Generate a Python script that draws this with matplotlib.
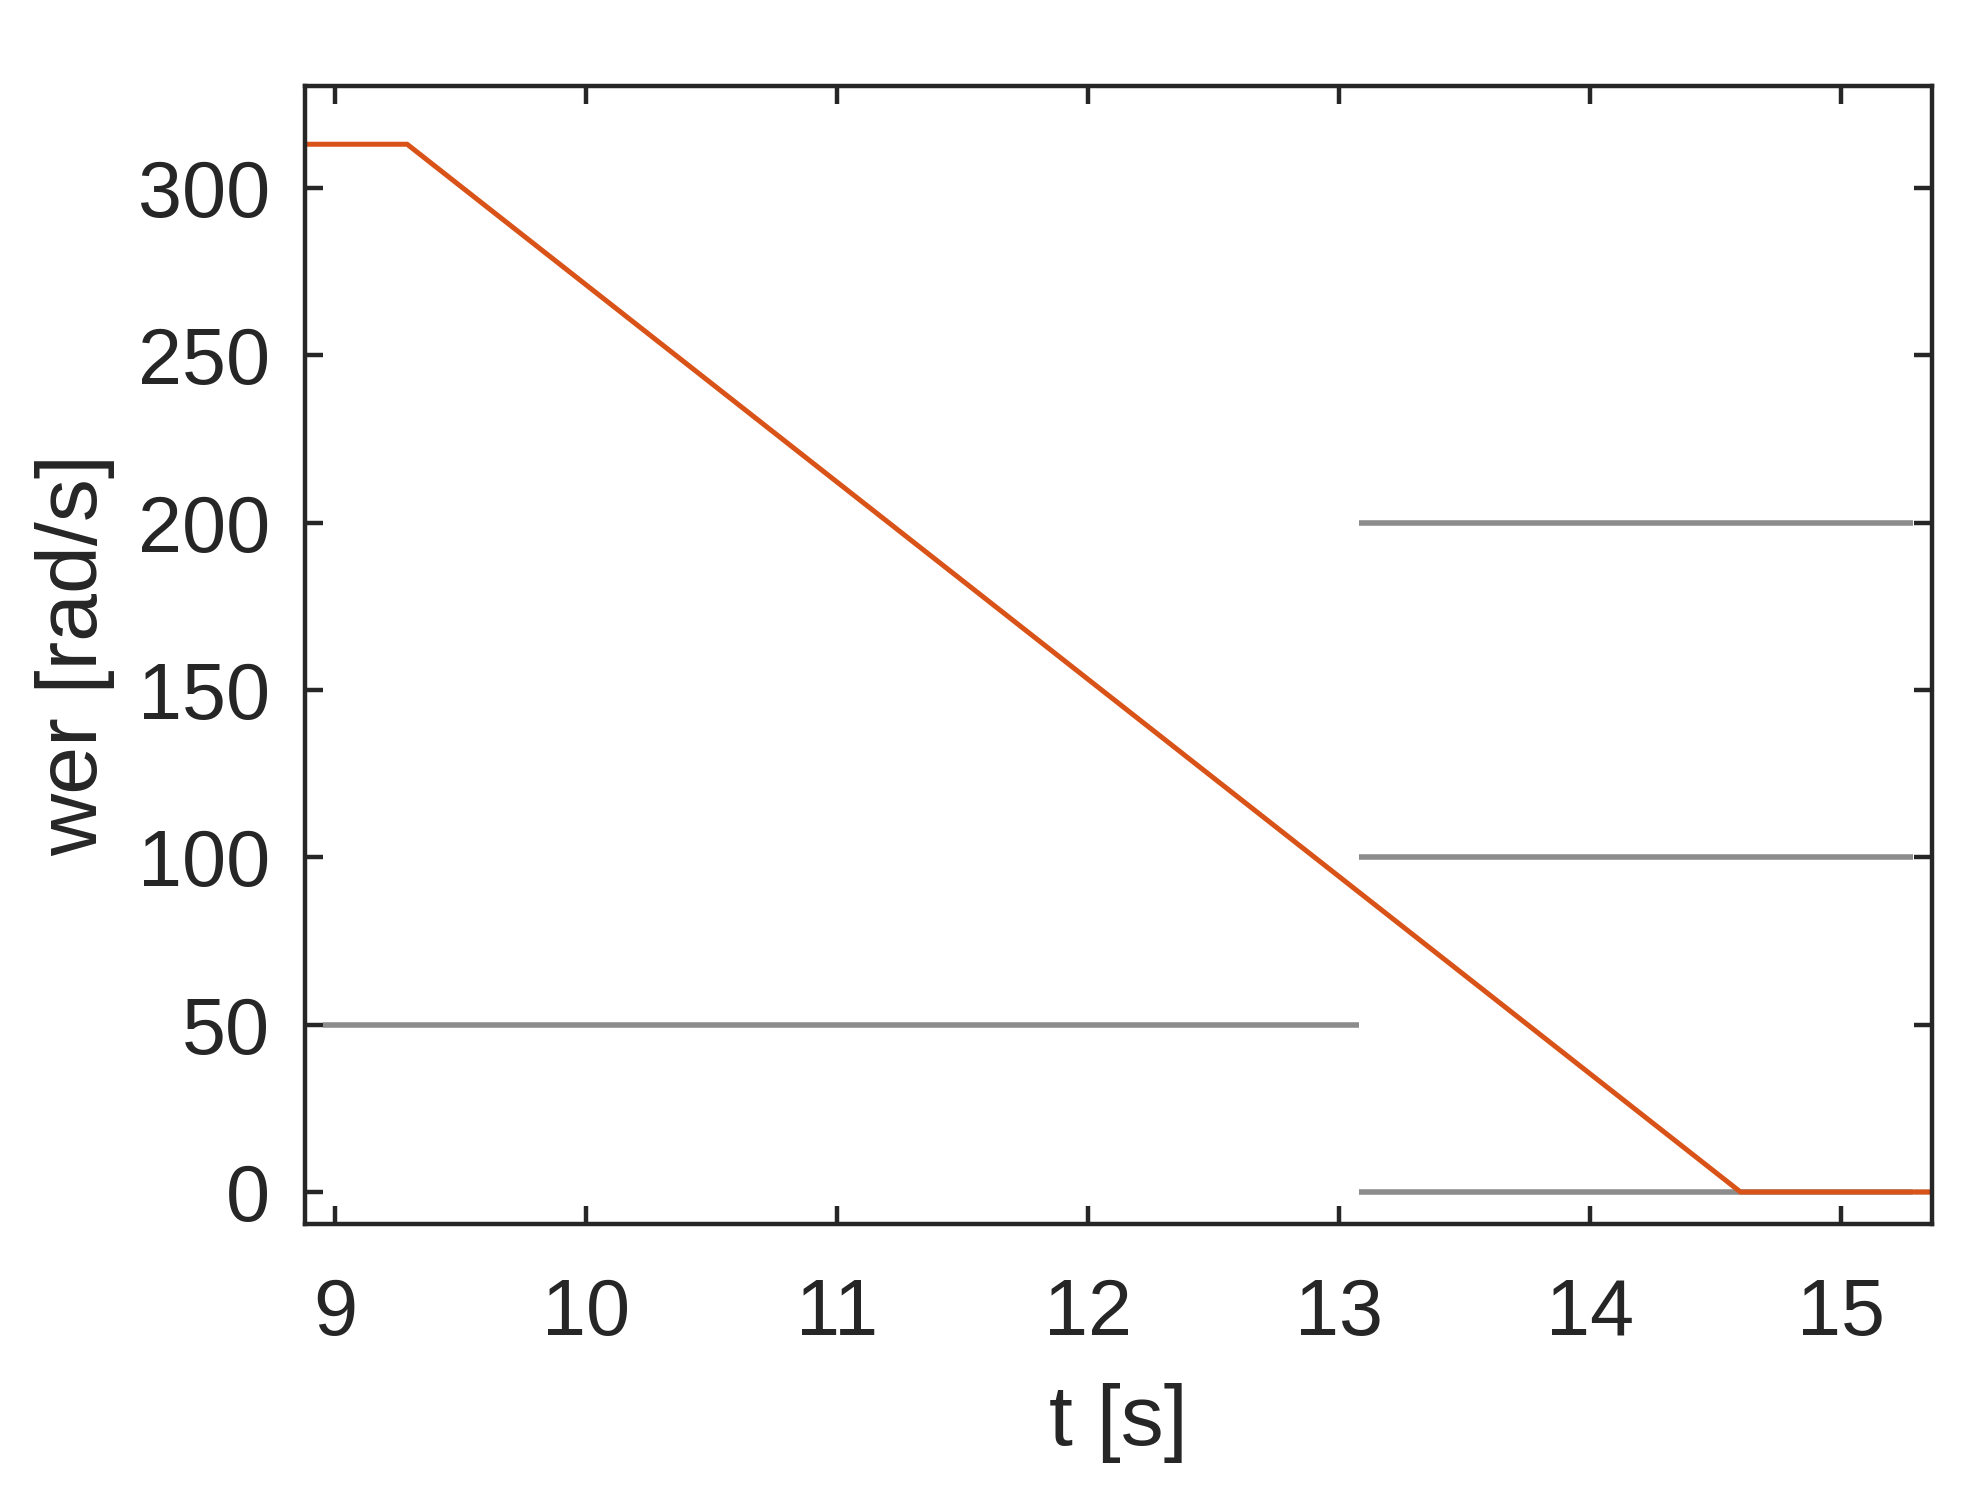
import numpy as np
import matplotlib.pyplot as plt

plt.rcParams['font.family'] = ['Liberation Sans', 'DejaVu Sans']

# speed profile (orange)
t_speed = [8.88, 9.287, 14.60, 15.363]
w_speed = [313.0, 313.0, 0.0, 0.0]

# reference levels (gray)
t_lvl_a = [8.952, 13.08]
w_lvl_a = [50, 50]
t_lvl_b = [13.08, 15.287]
w_lvl_b = [200, 100, 0]

xticks = [9, 10, 11, 12, 13, 14, 15]
yticks = [0, 50, 100, 150, 200, 250, 300]

dark = '#262626'

fig = plt.figure(figsize=(19.75, 14.95), dpi=100)
ax = fig.add_axes([305 / 1975, 1 - 1224 / 1495, (1932 - 305) / 1975, (1224 - 86) / 1495])

ax.plot(t_lvl_a, w_lvl_a, color='#8c8c8c', lw=4.0, solid_capstyle='butt')
for w in w_lvl_b:
    ax.plot(t_lvl_b, [w, w], color='#8c8c8c', lw=4.0, solid_capstyle='butt')
ax.plot(t_speed, w_speed, color='#D95319', lw=3.6)

ax.set_xlim(8.88, 15.363)
ax.set_ylim(-9.56, 330.4)
ax.set_xticks(xticks)
ax.set_yticks(yticks)
ax.tick_params(direction='in', length=13, width=3.2, colors=dark,
               labelsize=57, top=True, right=True)
ax.tick_params(axis='x', pad=38)
ax.tick_params(axis='y', pad=25)
for s in ax.spines.values():
    s.set_linewidth(3.2)
    s.set_color(dark)

ax.set_xlabel('t [s]', fontsize=62, color=dark, va='center')
ax.set_ylabel('wer [rad/s]', fontsize=62, color=dark, va='center')
ax.xaxis.set_label_coords(0.5, -0.175)
ax.yaxis.set_label_coords(-0.141, 0.5)

fig.savefig('out.png', dpi=100)
